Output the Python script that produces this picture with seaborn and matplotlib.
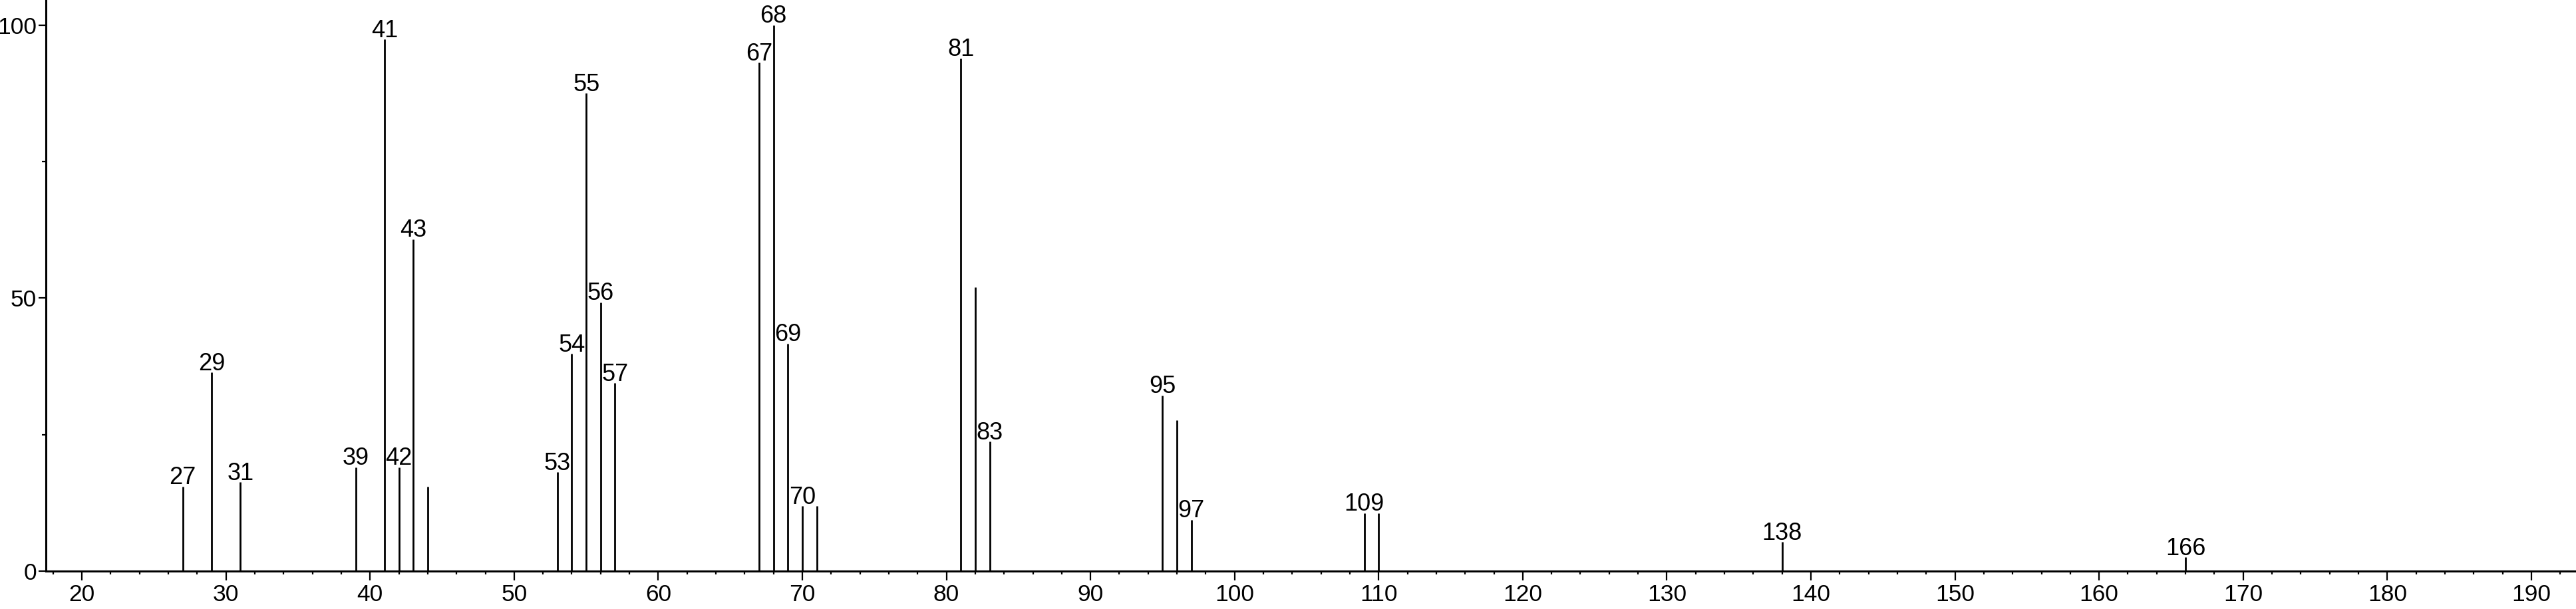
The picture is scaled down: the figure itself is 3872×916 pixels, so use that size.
import pandas as pd
import matplotlib
matplotlib.use("Agg")
import matplotlib.pyplot as plt
import seaborn as sns
from matplotlib.ticker import MultipleLocator

# m/z and relative intensity
mz = [27, 29, 31, 39, 41, 42, 43, 44, 53, 54, 55, 56, 57,
      67, 68, 69, 70, 71, 81, 82, 83, 95, 96, 97, 109, 110, 138, 166]
intensity = [15.5, 36.4, 16.3, 19.0, 97.4, 19.0, 60.8, 15.5, 18.1, 39.8, 87.5, 49.2, 34.4,
             93.1, 100.0, 41.7, 11.9, 11.9, 93.9, 52.0, 23.7, 32.2, 27.7, 9.4, 10.6, 10.6, 5.3, 2.5]
labelled = [27, 29, 31, 39, 41, 42, 43, 53, 54, 55, 56, 57, 67, 68, 69, 70,
            81, 83, 95, 97, 109, 138, 166]

df = pd.DataFrame({"mz": mz, "intensity": intensity})

sns.set_style("ticks")
plt.rcParams["font.family"] = ["Liberation Sans", "DejaVu Sans"]

fig = plt.figure(figsize=(38.72, 9.16), dpi=100)
ax = fig.add_axes([69 / 3872, 1 - 859 / 916, 1 - 69 / 3872, 859 / 916])

# stick spectrum
ax.vlines(df["mz"], 0, df["intensity"], color="black", linewidth=2.0)

for _, row in df[df["mz"].isin(labelled)].iterrows():
    ax.annotate(str(int(row["mz"])), (row["mz"], row["intensity"]),
                xytext=(0, 2.5), textcoords="offset points",
                ha="center", va="baseline", fontsize=26, color="black")

ax.set_xlim(17.5, 193.1)
ax.set_ylim(0, 104.6)

ax.xaxis.set_major_locator(MultipleLocator(10))
ax.xaxis.set_minor_locator(MultipleLocator(2))
ax.yaxis.set_major_locator(MultipleLocator(50))
ax.yaxis.set_minor_locator(MultipleLocator(25))

sns.despine(ax=ax)
for side in ["left", "bottom"]:
    ax.spines[side].set_linewidth(2.2)
    ax.spines[side].set_color("black")

ax.tick_params(axis="x", which="major", length=10, width=1.6, labelsize=25.5, pad=4, colors="black")
ax.tick_params(axis="x", which="minor", length=3.8, width=1.6, colors="black")
ax.tick_params(axis="y", which="major", length=8, width=1.6, labelsize=25.5, pad=2, colors="black")
ax.tick_params(axis="y", which="minor", length=4.5, width=1.6, colors="black")

ax.set_xlabel("")
ax.set_ylabel("")

fig.savefig("out.png", dpi=100, facecolor="white")
